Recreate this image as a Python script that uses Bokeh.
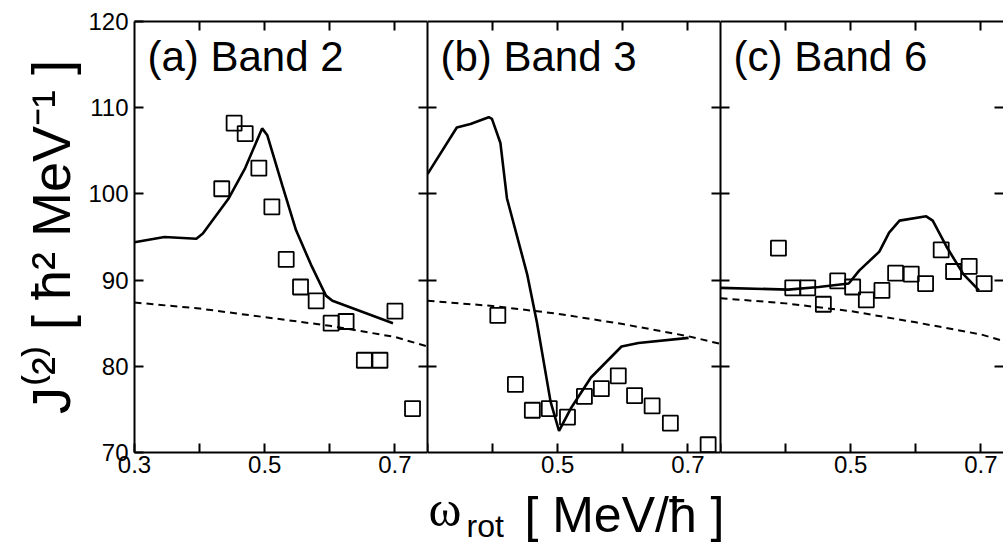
from bokeh.plotting import figure
from bokeh.layouts import row, column
from bokeh.models import Range1d, LinearAxis, FixedTicker, Label
from bokeh.embed import file_html
from bokeh.resources import INLINE

# ---------------- data ----------------
# panel (a) Band 2
a_calc_x = [0.300, 0.346, 0.395, 0.405, 0.444, 0.470, 0.496, 0.504, 0.527, 0.548, 0.571, 0.594, 0.604, 0.697]
a_calc_y = [94.4, 95.0, 94.8, 95.4, 99.4, 103.0, 107.6, 106.8, 101.0, 95.8, 91.8, 88.2, 87.6, 85.0]
a_ref_x = [0.30, 0.40, 0.50, 0.60, 0.70, 0.75]
a_ref_y = [87.4, 86.7, 85.7, 84.7, 83.4, 82.3]
a_exp_x = [0.434, 0.453, 0.470, 0.491, 0.511, 0.533, 0.555, 0.579, 0.602, 0.625, 0.653, 0.677, 0.700, 0.727]
a_exp_y = [100.6, 108.2, 107.0, 103.0, 98.5, 92.4, 89.2, 87.6, 85.0, 85.2, 80.7, 80.7, 86.4, 75.1]

# panel (b) Band 3
b_calc_x = [0.300, 0.345, 0.366, 0.394, 0.399, 0.412, 0.422, 0.453, 0.468, 0.489, 0.502, 0.520, 0.551, 0.598, 0.624, 0.701]
b_calc_y = [102.3, 107.7, 108.1, 108.9, 108.7, 105.9, 99.5, 90.7, 85.1, 75.9, 72.5, 75.1, 78.7, 82.3, 82.7, 83.3]
b_ref_x = [0.30, 0.40, 0.50, 0.60, 0.70, 0.75]
b_ref_y = [87.6, 87.0, 86.1, 84.9, 83.5, 82.6]
b_exp_x = [0.408, 0.435, 0.461, 0.487, 0.515, 0.541, 0.567, 0.593, 0.618, 0.645, 0.673, 0.731]
b_exp_y = [85.9, 77.9, 74.9, 75.1, 74.1, 76.5, 77.4, 78.9, 76.6, 75.4, 73.4, 70.9]

# panel (c) Band 6
c_calc_x = [0.300, 0.404, 0.451, 0.497, 0.513, 0.544, 0.559, 0.575, 0.616, 0.626, 0.647, 0.673, 0.697]
c_calc_y = [89.1, 88.9, 89.2, 89.6, 91.1, 93.3, 95.5, 96.9, 97.4, 96.9, 93.9, 90.7, 88.8]
c_ref_x = [0.30, 0.40, 0.50, 0.60, 0.70, 0.75]
c_ref_y = [87.9, 87.3, 86.4, 85.1, 83.7, 82.6]
c_exp_x = [0.389, 0.411, 0.434, 0.458, 0.480, 0.503, 0.524, 0.548, 0.569, 0.593, 0.615, 0.639, 0.658, 0.682, 0.705]
c_exp_y = [93.7, 89.1, 89.1, 87.2, 89.9, 89.2, 87.7, 88.8, 90.8, 90.7, 89.6, 93.5, 91.0, 91.6, 89.6]

panel_labels = ["(a) Band 2", "(b) Band 3", "(c) Band 6"]
y_ticks_labeled = [70, 80, 90, 100, 110, 120]
y_ticks_plain = [80, 90, 100, 110]
x_major_a = [0.3, 0.5, 0.7]
x_minor_a = [0.4, 0.6]
x_major_bc = [0.5, 0.7]
x_minor_bc = [0.3, 0.4, 0.6]
x_ticks_top = [0.4, 0.5, 0.6, 0.7]
y_title = "J\u207d\u00b2\u207e [ \u0127\u00b2 MeV\u207b\u00b9 ]"
x_title_symbol = "\u03c9"
x_title_sub = "rot"
x_title_unit = "[ MeV/\u0127 ]"

FONT = "Liberation Sans"
FRAME_H = 431
TOP = 21
BOTTOM = 30
TICK = 9
TITLE_H = 545 - (TOP + FRAME_H + BOTTOM)


def make_axis(ticks, minor=None, labels=False, line=True, size="24px", standoff=6):
    return LinearAxis(
        ticker=FixedTicker(ticks=ticks, minor_ticks=minor or []),
        major_tick_in=TICK, major_tick_out=0, minor_tick_in=TICK, minor_tick_out=0,
        major_tick_line_width=2, minor_tick_line_width=2,
        major_tick_line_color="black", minor_tick_line_color="black",
        axis_line_width=2, axis_line_color="black" if line else None,
        major_label_text_font=FONT,
        major_label_text_font_size=size if labels else "0px",
        major_label_text_color="black",
        major_label_standoff=standoff if labels else 0,
    )


def make_panel(xmax, fw, left_border, label, calc, ref, exp, first, last):
    p = figure(x_range=Range1d(0.3, xmax), y_range=Range1d(70, 120),
               frame_width=fw, frame_height=FRAME_H,
               min_border_left=left_border, min_border_right=0,
               min_border_top=TOP, min_border_bottom=BOTTOM,
               x_axis_location=None, y_axis_location=None,
               toolbar_location=None, output_backend="svg")
    p.xgrid.visible = False
    p.ygrid.visible = False
    p.outline_line_color = None
    p.background_fill_color = "white"
    p.border_fill_color = "white"

    if first:
        bx = make_axis(x_major_a, x_minor_a, labels=True, standoff=3)
        ly = make_axis(y_ticks_labeled, labels=True, standoff=6)
        ly.axis_label = y_title
        ly.axis_label_text_font = FONT
        ly.axis_label_text_font_size = "54px"
        ly.axis_label_text_font_style = "normal"
        ly.axis_label_text_color = "black"
        ly.axis_label_standoff = 4
    else:
        bx = make_axis(x_major_bc, x_minor_bc, labels=True, standoff=3)
        ly = make_axis(y_ticks_plain, labels=False, line=True)
    p.add_layout(bx, "below")
    p.add_layout(ly, "left")
    p.add_layout(make_axis(x_ticks_top, labels=False), "above")
    p.add_layout(make_axis(y_ticks_plain, labels=False, line=not last), "right")

    p.line(ref[0], ref[1], line_color="black", line_width=2, line_dash="7 5")
    p.line(calc[0], calc[1], line_color="black", line_width=2.6)
    p.scatter(exp[0], exp[1], marker="square", size=15, fill_color=None,
              line_color="black", line_width=1.8)

    p.add_layout(Label(x=13, y=FRAME_H - 35, x_units="screen", y_units="screen",
                       text=label, text_font=FONT, text_font_size="42px",
                       text_color="black", text_baseline="alphabetic", text_align="left"))
    return p


pa = make_panel(0.75, 293, 134, panel_labels[0], (a_calc_x, a_calc_y), (a_ref_x, a_ref_y),
                (a_exp_x, a_exp_y), True, False)
pb = make_panel(0.75, 293, 0, panel_labels[1], (b_calc_x, b_calc_y), (b_ref_x, b_ref_y),
                (b_exp_x, b_exp_y), False, False)
pc = make_panel(0.7347, 283, 0, panel_labels[2], (c_calc_x, c_calc_y), (c_ref_x, c_ref_y),
                (c_exp_x, c_exp_y), False, True)

# x-axis title strip underneath the panels
pt = figure(width=1003, height=TITLE_H, x_range=Range1d(0, 1), y_range=Range1d(0, 1),
            min_border=0, x_axis_location=None, y_axis_location=None,
            toolbar_location=None, output_backend="svg")
pt.xgrid.visible = False
pt.ygrid.visible = False
pt.outline_line_color = None
pt.background_fill_color = "white"
pt.border_fill_color = "white"
pt.add_layout(Label(x=428, y=37, x_units="screen", y_units="screen", text=x_title_symbol,
                    text_font="Liberation Serif", text_font_size="50px", text_color="black",
                    text_baseline="alphabetic", text_align="left"))
pt.add_layout(Label(x=466, y=20, x_units="screen", y_units="screen", text=x_title_sub,
                    text_font=FONT, text_font_size="32px", text_color="black",
                    text_baseline="alphabetic", text_align="left"))
pt.add_layout(Label(x=724, y=31, x_units="screen", y_units="screen", text=x_title_unit,
                    text_font=FONT, text_font_size="50px", text_color="black",
                    text_baseline="alphabetic", text_align="right"))

layout = column(row(pa, pb, pc, spacing=0), pt, spacing=0)
open("out.html", "w").write(file_html(layout, INLINE))
